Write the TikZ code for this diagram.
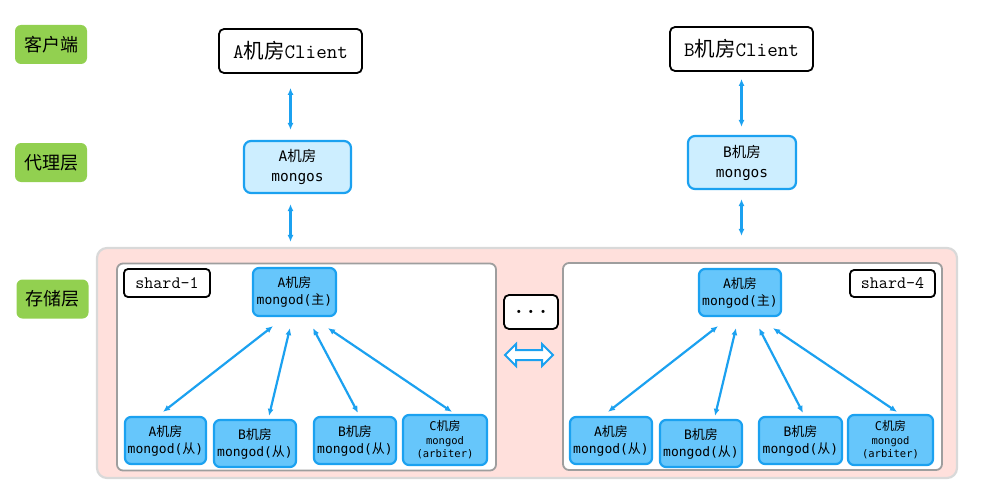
\documentclass[tikz,border=0pt]{standalone}
\usepackage{fontspec}
\newfontfamily\cjkfont{Noto Sans CJK SC}
\newfontfamily\conmono{DejaVu Sans Mono}
\newcommand{\zh}[1]{{\cjkfont #1}}
\usetikzlibrary{arrows.meta,shapes.arrows}
\definecolor{layergreen}{HTML}{92D050}
\definecolor{linkblue}{HTML}{1BA1F0}
\definecolor{nodeblue}{HTML}{66C6FB}
\definecolor{lightblue}{HTML}{CDEEFF}
\definecolor{storepink}{HTML}{FFE0DC}
\tikzset{
  >={Latex[length=7pt,width=6pt]},
  layer/.style={fill=layergreen, rounded corners=6pt, minimum width=72pt, minimum height=39pt, inner sep=0pt, font=\cjkfont\fontsize{18}{20}\selectfont},
  client/.style={draw, line width=1.8pt, fill=white, rounded corners=5pt, minimum width=143pt, minimum height=44pt, inner sep=0pt, font=\ttfamily\fontsize{20.5}{22}\selectfont},
  router/.style={draw=linkblue, line width=2.2pt, fill=lightblue, rounded corners=7pt, minimum width=107pt, minimum height=52pt, inner sep=0pt, align=center, font=\conmono\fontsize{14.5}{20}\selectfont},
  store/.style={draw=black!15, line width=2.2pt, fill=storepink, rounded corners=10pt, minimum width=860pt, minimum height=230pt, inner sep=0pt},
  shardbox/.style={draw=black!38, line width=1.8pt, fill=white, rounded corners=6pt, minimum width=379pt, minimum height=207pt, inner sep=0pt},
  tag/.style={draw, line width=1.8pt, fill=white, rounded corners=4pt, minimum width=86pt, minimum height=28pt, inner sep=0pt, font=\ttfamily\fontsize{17.5}{18}\selectfont},
  mongod/.style={draw=linkblue, line width=2.2pt, fill=nodeblue, rounded corners=6pt, minimum width=82pt, minimum height=47pt, inner sep=0pt, align=center, font=\conmono\fontsize{13}{17}\selectfont},
  arbiter/.style={mongod, minimum width=84pt, minimum height=50pt, font=\conmono\fontsize{10.5}{13.5}\selectfont},
  link/.style={<->, draw=linkblue, line width=2.2pt},
  swap/.style={double arrow, draw=linkblue, line width=2pt, fill=white, minimum height=48pt, inner xsep=0pt, inner ysep=4pt, double arrow head extend=6pt}
}
\begin{document}
\begin{tikzpicture}[x=1pt,y=-1pt]
    \useasboundingbox (0,0) rectangle (984,500);

    \node[layer] (g1) at (51,44.5) {客户端};
    \node[layer] (g2) at (51,162.5) {代理层};
    \node[layer] (g3) at (52.5,299) {存储层};

    \node[client] (c1) at (290.5,51) {A\zh{机房}Client};
    \node[client] (c2) at (741.5,49) {B\zh{机房}Client};
    \node[router] (m1) at (297.5,167) {A\zh{机房}\\mongos};
    \node[router, minimum width=108pt, minimum height=53pt] (m2) at (742,162.5) {B\zh{机房}\\mongos};

    \node[store] (store) at (527,363) {};
    \node[shardbox] (sh1) at (306.5,367) {};
    \node[shardbox] (sh4) at (752.5,366.5) {};
    \node[tag] (l1) at (167,283) {shard-1};
    \node[tag, minimum width=85pt, minimum height=27pt] (l4) at (892.5,283.5) {shard-4};

    \node[mongod, minimum width=83pt, minimum height=48pt] (p1) at (294.5,292) {A\zh{机房}\\mongod(\zh{主})};
    \node[mongod, minimum width=81pt] (s11) at (165.5,440.5) {A\zh{机房}\\mongod(\zh{从})};
    \node[mongod] (s12) at (255,443.5) {B\zh{机房}\\mongod(\zh{从})};
    \node[mongod] (s13) at (355,440.5) {B\zh{机房}\\mongod(\zh{从})};
    \node[arbiter] (s14) at (445,440) {{\fontsize{12}{13.5}\selectfont C\zh{机房}}\\mongod\\(arbiter)};

    \node[mongod] (p2) at (740,292.5) {A\zh{机房}\\mongod(\zh{主})};
    \node[mongod] (t1) at (611,440.5) {A\zh{机房}\\mongod(\zh{从})};
    \node[mongod] (t2) at (701,443.5) {B\zh{机房}\\mongod(\zh{从})};
    \node[mongod, minimum width=83pt] (t3) at (800.5,440.5) {B\zh{机房}\\mongod(\zh{从})};
    \node[arbiter, minimum width=85pt] (t4) at (890.5,440) {{\fontsize{12}{13.5}\selectfont C\zh{机房}}\\mongod\\(arbiter)};

    \node[tag, minimum width=54pt, minimum height=34pt, rounded corners=5pt, font=\ttfamily\bfseries\fontsize{23}{24}\selectfont] (dots) at (531,312) {...};
    \node[swap] (arr) at (529,355) {};

    \draw (c1.south) edge[link, shorten <=14pt, shorten >=10pt] (c1.south |- m1.north);
    \draw (c1.south |- m1.south) edge[link, shorten <=10pt, shorten >=5pt] (c1.south |- store.north);
    \draw (c2.south) edge[link, shorten <=7pt, shorten >=8pt] (c2.south |- m2.north);
    \draw (c2.south |- m2.south) edge[link, shorten <=9pt, shorten >=11pt] (c2.south |- store.north);

    \draw ([xshift=-21.5pt,yshift=-9pt]p1.south) edge[link] ([xshift=-2.5pt,yshift=4pt]s11.north);
    \draw ([xshift=-4.5pt,yshift=-11pt]p1.south) edge[link] ([xshift=14pt,yshift=3pt]s12.north);
    \draw ([xshift=18.5pt,yshift=-11pt]p1.south) edge[link] ([xshift=3pt,yshift=3pt]s13.north);
    \draw ([xshift=33.5pt,yshift=-11pt]p1.south) edge[link] ([xshift=7pt,yshift=2pt]s14.north);

    \draw ([xshift=-22pt,yshift=-9pt]p2.south) edge[link] ([xshift=-3pt,yshift=4pt]t1.north);
    \draw ([xshift=-4pt,yshift=-11pt]p2.south) edge[link] ([xshift=14pt,yshift=3pt]t2.north);
    \draw ([xshift=19pt,yshift=-11pt]p2.south) edge[link] ([xshift=2.5pt,yshift=3pt]t3.north);
    \draw ([xshift=33pt,yshift=-11pt]p2.south) edge[link] ([xshift=6.5pt,yshift=2pt]t4.north);
\end{tikzpicture}
\end{document}
